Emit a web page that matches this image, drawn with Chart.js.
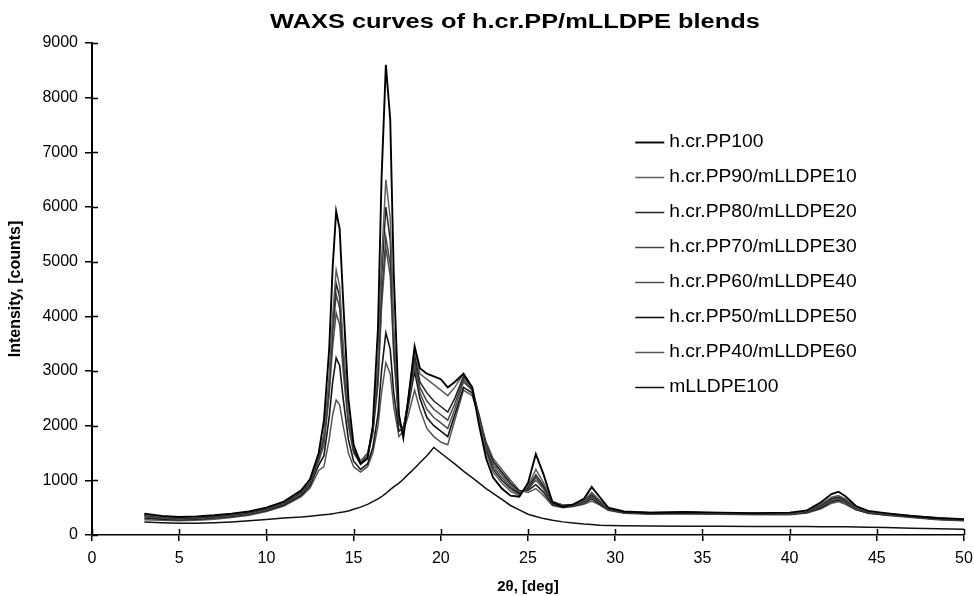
<!DOCTYPE html>
<html>
<head>
<meta charset="utf-8">
<script src="https://cdn.jsdelivr.net/npm/chart.js@4/dist/chart.umd.min.js"></script>
<style>
  html, body { margin: 0; padding: 0; background: #fff; }
  #wrap { width: 974px; height: 596px; }
</style>
</head>
<body>
<div id="wrap"><canvas id="c" width="974" height="596"></canvas></div>
<script>
const chartTitle = 'WAXS curves of h.cr.PP/mLLDPE blends';
const xAxisTitle = '2θ, [deg]';
const yAxisTitle = 'Intensity, [counts]';

const twoTheta = [3, 4, 5, 6, 7, 8, 9, 10, 11, 12, 12.5, 13, 13.3, 13.6, 13.8, 14.0, 14.2, 14.4, 14.7, 15.0, 15.4, 15.8, 16.1, 16.4, 16.6, 16.85, 17.1, 17.3, 17.6, 17.85, 18.1, 18.5, 18.8, 19.2, 19.6, 20.0, 20.4, 20.8, 21.3, 21.8, 22.2, 22.6, 23.0, 23.5, 24.0, 24.5, 25.0, 25.45, 25.9, 26.4, 27.0, 27.6, 28.2, 28.65, 29.1, 29.6, 30.5, 32, 34, 36, 38, 40, 41, 41.8, 42.4, 42.8, 43.2, 43.8, 44.5, 45.5, 47, 48.5, 50];

const pp100 = [390,350,330,340,360,390,430,500,610,820,1020,1500,
 2100,3400,4900,5920,5600,4300,2500,1650,1300,1400,2000,3800,6500,8600,7600,4800,2200,1780,2400,3450,3050,2950,2900,2850,2700,2800,2950,
 2700,2000,1400,1050,850,720,700,
 950,1480,1100,600,520,560,660,880,700,500,
 430,410,420,410,400,410,450,600,750,790,710,530,440,400,350,310,290];

const pp90 = [370,340,320,330,350,380,420,490,600,800,1000,1450,
 1850,2900,4000,4850,4550,3500,2200,1600,1350,1450,1950,3200,5000,6500,5800,3800,2100,1850,2400,3400,2950,2850,2750,2650,2550,2700,2950,
 2700,2100,1500,1150,950,800,720,
 900,1200,950,620,540,560,630,780,640,490,
 430,410,420,400,400,400,440,570,690,720,660,510,430,390,350,310,285];

const pp80 = [360,330,310,320,340,370,410,480,590,790,980,1420,
 1800,2800,3850,4600,4350,3350,2150,1550,1300,1450,1900,3000,4700,6000,5400,3600,2050,1900,2400,3300,2800,2600,2450,2350,2250,2500,2900,
 2700,2150,1550,1200,1000,850,750,
 870,1100,900,610,550,560,620,740,620,480,
 420,400,410,400,390,400,430,550,670,700,640,500,420,390,340,300,280];

const pp70 = [350,320,300,310,330,360,400,470,580,770,960,1400,
 1750,2700,3700,4400,4150,3200,2100,1550,1350,1500,1900,2850,4300,5450,4950,3400,2050,1950,2400,3200,2700,2450,2300,2200,2100,2400,2850,
 2650,2150,1600,1250,1050,880,760,
 850,1050,870,590,530,550,600,710,600,480,
 420,400,410,390,390,390,420,530,650,680,620,490,420,380,340,300,275];

const pp60 = [330,310,290,300,320,350,390,460,570,760,940,1350,
 1650,2550,3450,4060,3850,3000,2000,1500,1300,1450,1850,2750,4150,5250,4750,3300,2050,1950,2350,3100,2600,2300,2150,2050,1950,2300,2800,
 2650,2200,1650,1300,1100,920,780,
 840,1000,840,580,520,540,590,690,590,470,
 410,390,400,390,380,390,420,520,630,660,600,480,410,380,330,290,270];

const pp50 = [310,290,280,290,310,340,380,450,550,730,900,1280,
 1450,2150,2800,3240,3100,2500,1750,1350,1200,1300,1600,2200,3000,3700,3400,2600,1900,1950,2300,3000,2500,2150,2000,1900,1800,2200,2700,
 2600,2150,1650,1350,1150,950,800,
 820,920,780,560,510,530,580,660,570,460,
 410,390,400,380,380,380,410,500,610,640,590,470,400,370,330,290,265];

const pp40 = [280,270,260,270,290,320,360,430,530,700,860,1180,
 1250,1750,2200,2470,2380,2000,1500,1250,1150,1250,1500,2000,2600,3150,2950,2350,1800,1900,2150,2650,2300,1950,1800,1700,1650,2100,2650,
 2550,2150,1700,1400,1200,1000,820,
 780,850,720,540,500,520,560,620,550,450,
 400,380,390,380,370,370,400,480,580,610,560,460,400,360,320,280,260];

const pe100 = [240,225,215,215,225,240,260,285,310,330,345,360,
 370,380,390,400,410,420,440,470,510,560,610,660,700,760,830,880,950,1020,1100,1220,1320,1450,1600,1500,1400,1300,1170,
 1050,950,850,760,650,540,460,
 380,340,300,270,240,220,200,190,180,175,
 170,165,160,160,155,155,155,150,150,150,150,145,140,135,125,115,105];

const seriesNames = ['h.cr.PP100','h.cr.PP90/mLLDPE10','h.cr.PP80/mLLDPE20','h.cr.PP70/mLLDPE30','h.cr.PP60/mLLDPE40','h.cr.PP50/mLLDPE50','h.cr.PP40/mLLDPE60','mLLDPE100'];
const seriesValues = [pp100, pp90, pp80, pp70, pp60, pp50, pp40, pe100];
const seriesColors = ['#000000','#5e5e5e','#222222','#444444','#4e4e4e','#151515','#555555','#111111'];
const seriesWidths = [1.9, 1.5, 1.5, 1.5, 1.5, 1.6, 1.5, 1.5];

const xTicks = [0,5,10,15,20,25,30,35,40,45,50];
const yTicks = [0,1000,2000,3000,4000,5000,6000,7000,8000,9000];

const FONT = "'Liberation Sans', Arial, sans-serif";

const datasets = seriesNames.map((name, i) => ({
  label: name,
  data: twoTheta.map((x, j) => ({x: x, y: seriesValues[i][j]})),
  borderColor: seriesColors[i],
  backgroundColor: seriesColors[i],
  borderWidth: seriesWidths[i],
  pointRadius: 0,
  tension: 0,
  fill: false
}));

const innerTicks = {
  id: 'innerTicks',
  afterDatasetsDraw(chart) {
    const ctx = chart.ctx;
    const xs = chart.scales.x, ys = chart.scales.y;
    ctx.save();
    ctx.strokeStyle = '#000';
    ctx.lineWidth = 1.5;
    ctx.beginPath();
    yTicks.forEach(v => {
      const py = Math.round(ys.getPixelForValue(v)) + 0.5;
      ctx.moveTo(xs.left, py); ctx.lineTo(xs.left + 6, py);
    });
    xTicks.forEach(v => {
      const px = Math.round(xs.getPixelForValue(v)) + 0.5;
      ctx.moveTo(px, ys.bottom); ctx.lineTo(px, ys.bottom - 6);
    });
    ctx.stroke();
    ctx.restore();
  }
};

// Title (drawn slightly widened, like the scanned original)
const wideTitle = {
  id: 'wideTitle',
  afterDraw(chart) {
    const ctx = chart.ctx;
    const ca = chart.chartArea;
    const cx = (ca.left + ca.right) / 2 - 13;
    ctx.save();
    ctx.font = "bold 20px " + FONT;
    ctx.textAlign = 'center';
    ctx.textBaseline = 'middle';
    ctx.fillStyle = '#000';
    ctx.translate(cx, 22);
    ctx.scale(1.27, 1);
    ctx.fillText(chartTitle, 0, 0);
    ctx.restore();
  }
};

const sideLegend = {
  id: 'sideLegend',
  afterDraw(chart) {
    const ctx = chart.ctx;
    const ca = chart.chartArea;
    const x0 = ca.left + (ca.right - ca.left) * 0.623;
    const y0 = ca.top + 99;
    const step = 35;
    ctx.save();
    ctx.font = "18px " + FONT;
    ctx.textBaseline = 'middle';
    ctx.fillStyle = '#000';
    chart.data.datasets.forEach((ds, i) => {
      const y = y0 + i * step;
      ctx.strokeStyle = ds.borderColor;
      ctx.lineWidth = ds.borderWidth;
      ctx.beginPath();
      ctx.moveTo(x0, y + 0.5); ctx.lineTo(x0 + 29, y + 0.5);
      ctx.stroke();
      ctx.save();
      ctx.translate(x0 + 34, y);
      ctx.scale(1.07, 1);
      ctx.fillText(ds.label, 0, 0);
      ctx.restore();
    });
    ctx.restore();
  }
};

new Chart(document.getElementById('c'), {
  type: 'line',
  data: { datasets: datasets },
  options: {
    responsive: false,
    animation: false,
    layout: { padding: { left: 0, right: 0, top: 43, bottom: 0 } },
    plugins: {
      legend: { display: false },
      tooltip: { enabled: false },
      title: { display: false }
    },
    scales: {
      x: {
        type: 'linear',
        min: 0, max: 50,
        afterFit(s) { s.height = 61; s.paddingRight = 10; s.paddingLeft = 0; },
        afterBuildTicks(s) { s.ticks = xTicks.map(v => ({value: v})); },
        ticks: { color: '#000', font: { family: FONT, size: 16 }, padding: 8, maxRotation: 0,
                 callback: v => String(v) },
        grid: { drawOnChartArea: false, drawTicks: true, tickLength: 6, color: '#000', lineWidth: 1.5 },
        border: { display: true, color: '#000', width: 1.5 },
        title: { display: true, text: xAxisTitle, color: '#000', font: { family: FONT, size: 15, weight: 'bold' }, padding: { top: 0, bottom: 0 } }
      },
      y: {
        min: 0, max: 9000,
        afterFit(s) { s.width = 92; },
        afterBuildTicks(s) { s.ticks = yTicks.map(v => ({value: v})); },
        ticks: { color: '#000', font: { family: FONT, size: 16 }, padding: 7,
                 callback: v => String(v) },
        grid: { drawOnChartArea: false, drawTicks: true, tickLength: 7, color: '#000', lineWidth: 1.5 },
        border: { display: true, color: '#000', width: 2 },
        title: { display: true, text: yAxisTitle, color: '#000', font: { family: FONT, size: 16, weight: 'bold' }, padding: { top: 6, bottom: 0 } }
      }
    }
  },
  plugins: [innerTicks, wideTitle, sideLegend]
});
</script>
</body>
</html>
